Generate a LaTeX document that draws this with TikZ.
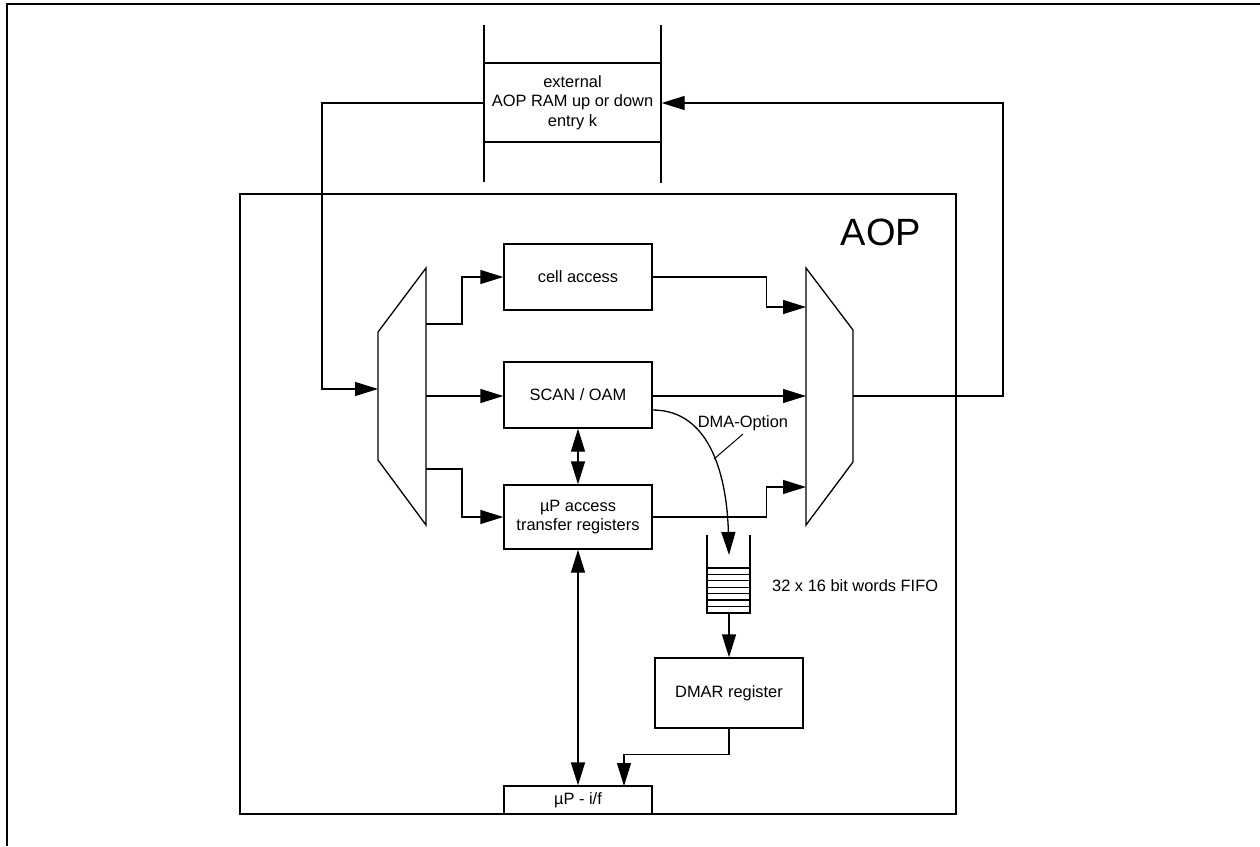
\documentclass[tikz,border=0pt]{standalone}
\usepackage{fontspec}
\setmainfont{Liberation Sans}
\usetikzlibrary{arrows.meta,calc}
\tikzset{
  ln/.style={line width=1.3pt},
  arr/.style={ln,-{Triangle[length=23pt,width=14pt]}},
  darr/.style={ln,{Triangle[length=23pt,width=14pt]}-{Triangle[length=23pt,width=14pt]}},
  blk/.style={draw,line width=1.3pt,inner sep=0pt,align=center,font=\fontsize{16.4}{19.5}\selectfont,fill=white},
  lbl/.style={inner sep=0pt,font=\fontsize{16.4}{19.5}\selectfont}
}
\begin{document}
\begin{tikzpicture}[x=1pt,y=-1pt]
\useasboundingbox (0,0) rectangle (1260,846);
% outer frame
\draw[ln] (7,846) -- (7,4) -- (1260,4);
% AOP box
\draw[ln] (240,194) rectangle (956,814);
\node[inner sep=0pt,font=\fontsize{38}{40}\selectfont,anchor=base] (aoplbl) at (881,245) {AOP};
% external RAM
\draw[ln] (484,25) -- (484,182);
\draw[ln] (661,25) -- (661,183);
\node[blk,minimum width=177pt,minimum height=79pt] (ext) at (572.5,102.5) {external\\AOP RAM up or down\\entry k};
% blocks
\node[blk,minimum width=148pt,minimum height=66pt] (cell) at (578,277) {cell access};
\node[blk,minimum width=148pt,minimum height=66pt] (scan) at (578,395) {SCAN / OAM};
\node[blk,minimum width=148pt,minimum height=64pt,font=\fontsize{16.4}{18.5}\selectfont] (upa) at (578,517) {µP access\\transfer registers};
\node[blk,minimum width=148pt,minimum height=70pt] (dmar) at (729,693) {DMAR register};
\node[blk,minimum width=148pt,minimum height=28pt] (upif) at (578,800) {µP - i/f};
% left mux
\draw[ln] (426,268) -- (378,332) -- (378,460) -- (426,525) -- cycle;
\coordinate (lin) at (378,389);
\coordinate (l1) at (426,324);
\coordinate (l2) at (426,396);
\coordinate (l3) at (426,469);
% right mux
\draw[ln] (806,268) -- (853,330) -- (853,462) -- (806,525) -- cycle;
\coordinate (r1) at (806,307);
\coordinate (r2) at (806,396);
\coordinate (r3) at (806,487);
\coordinate (rout) at (853,396);
% connections
\draw[arr] (ext.west |- 0,103) -- (322,103) |- (lin);
\draw[arr] (l1) -- ++(36,0) |- (cell.west);
\draw[arr] (l2) -- (scan.west |- l2);
\draw[arr] (l3) -- ++(36,0) |- (upa.west);
\draw[arr] (cell.east) -- ++(114,0) |- (r1);
\draw[arr] (scan.east |- r2) -- (r2);
\draw[arr] (upa.east) -- ++(114,0) |- (r3);
\draw[arr] (rout) -- (1003,396) |- (ext.east |- 0,103);
\draw[darr] (scan.south) -- (upa.north);
\draw[darr] (upa.south) -- (upif.north);
% FIFO
\coordinate (fifotop) at (729,555);
\coordinate (fifobot) at (729,613);
\draw[ln] (707,535) -- (707,613) -- (750,613) -- (750,535);
\foreach \yy in {568,574.4,580.8,587.2,593.6,600,606.4}
  \draw[line width=1.1pt] (707,\yy) -- (750,\yy);
\node[lbl,anchor=west] (fifolbl) at (772,586) {32 x 16 bit words FIFO};
% DMA option
\draw[arr] (scan.east |- 0,410) .. controls (712,410) and (727,480) .. (fifotop);
\node[lbl] (dmalbl) at (743,423) {DMA-Option};
\draw[line width=1pt] (743,434) -- (714,459);
\draw[arr] (fifobot) -- (dmar.north);
\coordinate (ifin) at (624,786);
\draw[arr] (dmar.south) -- ++(0,26) -| (ifin);
\end{tikzpicture}
\end{document}
